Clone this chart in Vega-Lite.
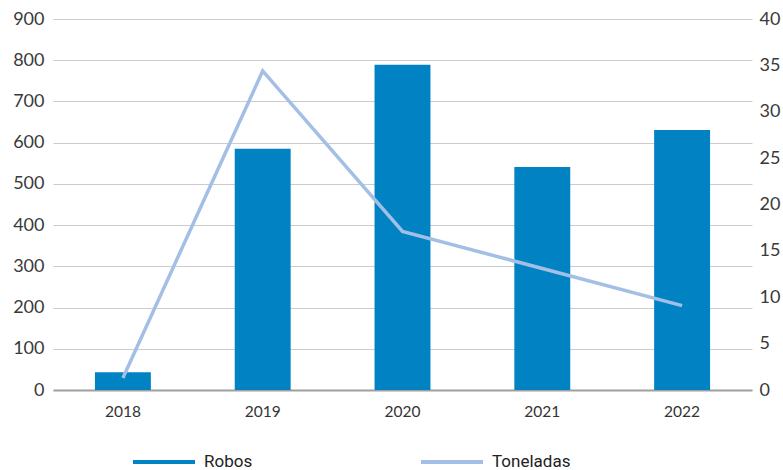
{
  "$schema": "https://vega.github.io/schema/vega-lite/v6.json",
  "width": 699,
  "height": 371,
  "autosize": {"type": "none"},
  "padding": {"left": 53, "top": 19, "right": 31, "bottom": 80},
  "background": "white",
  "config": {"view": {"stroke": null}, "font": "Lato"},
  "data": {
    "values": [
      {"year": "2018", "robos": 43, "toneladas": 1.3},
      {"year": "2019", "robos": 585, "toneladas": 34.4},
      {"year": "2020", "robos": 789, "toneladas": 17.1},
      {"year": "2021", "robos": 541, "toneladas": 13.1},
      {"year": "2022", "robos": 631, "toneladas": 9.1}
    ]
  },
  "encoding": {
    "x": {
      "field": "year",
      "type": "ordinal",
      "scale": {"paddingInner": 0.6, "paddingOuter": 0.3},
      "axis": {
        "title": null,
        "labelAngle": 0,
        "ticks": false,
        "domain": true,
        "domainColor": "#a0a0a0",
        "domainWidth": 2,
        "labelFontSize": 15.5,
        "labelColor": "#333333",
        "labelPadding": 14,
        "grid": false
      }
    }
  },
  "layer": [
    {
      "mark": {"type": "bar"},
      "encoding": {
        "y": {
          "field": "robos",
          "type": "quantitative",
          "scale": {"domain": [0, 900], "nice": false},
          "axis": {
            "title": null,
            "values": [0, 100, 200, 300, 400, 500, 600, 700, 800, 900],
            "ticks": false,
            "domain": false,
            "grid": true,
            "gridColor": "#cccccc",
            "gridWidth": 1,
            "labelFontSize": 18,
            "labelColor": "#3a3a3a",
            "labelPadding": 9
          }
        },
        "color": {
          "datum": "Robos",
          "scale": {"domain": ["Robos", "Toneladas"], "range": ["#0082c3", "#a3bfe6"]},
          "legend": {
            "orient": "none",
            "legendX": 78,
            "legendY": 410,
            "direction": "horizontal",
            "title": null,
            "symbolType": "stroke",
            "symbolSize": 3844,
            "symbolStrokeWidth": 4,
            "labelFontSize": 17,
            "labelFont": "Roboto",
            "labelColor": "#222222",
            "labelOffset": 7,
            "columnPadding": 160,
            "padding": 0,
            "encode": {
              "symbols": {
                "update": {
                  "stroke": {"scale": "color", "field": "value"},
                  "strokeWidth": {"value": 4}
                }
              }
            }
          }
        }
      }
    },
    {
      "mark": {"type": "line", "strokeWidth": 3.5},
      "encoding": {
        "y": {
          "field": "toneladas",
          "type": "quantitative",
          "scale": {"domain": [0, 40], "nice": false},
          "axis": {
            "orient": "right",
            "title": null,
            "values": [0, 5, 10, 15, 20, 25, 30, 35, 40],
            "ticks": false,
            "domain": false,
            "grid": false,
            "labelFontSize": 18,
            "labelColor": "#3a3a3a",
            "labelPadding": 7
          }
        },
        "color": {"datum": "Toneladas"}
      }
    }
  ],
  "resolve": {"scale": {"y": "independent"}}
}
